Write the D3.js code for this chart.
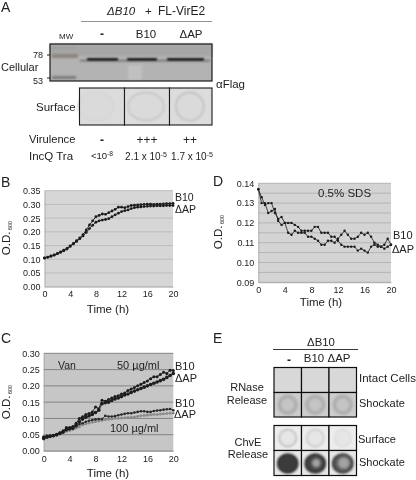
<!DOCTYPE html>
<html><head><meta charset="utf-8">
<script src="https://cdn.jsdelivr.net/npm/d3@7/dist/d3.min.js"></script>
<style>
html,body{margin:0;padding:0;background:#fff}
svg{display:block}
text{font-family:"Liberation Sans",Arial,sans-serif;fill:#222}
</style></head><body>
<svg id="c" width="416" height="480"></svg>
<script>
const timeTicks=[0,4,8,12,16,20];
const timeB=d3.range(0,20.01,0.5);
const bB10=[.105,.108,.112,.116,.121,.127,.133,.140,.149,.158,.168,.178,.190,.207,.225,.240,.255,.260,.265,.264,.270,.276,.282,.290,.290,.288,.292,.296,.297,.298,.299,.300,.301,.301,.300,.301,.301,.302,.303,.303,.304];
const bAP=[.104,.107,.111,.115,.120,.125,.131,.137,.147,.156,.165,.175,.185,.198,.212,.224,.235,.240,.243,.245,.248,.255,.262,.268,.274,.277,.280,.285,.288,.290,.291,.292,.293,.294,.294,.295,.295,.295,.296,.296,.296];
const c50B10=[.042,.046,.047,.048,.050,.056,.062,.072,.072,.075,.085,.100,.105,.112,.115,.120,.135,.130,.156,.153,.158,.163,.167,.170,.175,.178,.186,.190,.195,.200,.205,.210,.215,.222,.228,.228,.235,.242,.238,.248,.247];
const c50AP=[.038,.042,.045,.047,.050,.054,.058,.065,.068,.070,.078,.090,.098,.104,.108,.112,.118,.125,.145,.148,.150,.155,.160,.163,.167,.172,.175,.180,.184,.188,.192,.196,.200,.204,.208,.212,.216,.220,.226,.232,.238];
const c100B10=[.044,.045,.046,.048,.052,.055,.060,.066,.068,.072,.076,.082,.085,.090,.093,.095,.097,.098,.098,.108,.106,.106,.107,.110,.112,.114,.116,.116,.118,.120,.122,.122,.120,.120,.123,.124,.125,.127,.128,.129,.125];
const c100AP=[.042,.043,.045,.046,.048,.052,.056,.060,.063,.066,.070,.074,.080,.083,.086,.088,.090,.092,.094,.096,.097,.098,.100,.100,.101,.102,.103,.103,.104,.106,.108,.109,.110,.111,.112,.112,.113,.114,.115,.116,.116];
const dLower=[.137,.130,.130,.125,.126,.127,.121,.119,.120,.115,.114,.116,.115,.115,.115,.113,.113,.112,.111,.109,.109,.111,.111,.110,.112,.114,.116,.114,.112,.112,.113,.115,.114,.115,.113,.110,.109,.108,.109,.112,.109];
const dUpper=[.137,.133,.129,.130,.130,.125,.122,.123,.120,.120,.120,.119,.118,.116,.116,.116,.116,.118,.118,.115,.115,.115,.113,.113,.111,.109,.108,.108,.108,.108,.106,.107,.106,.105,.108,.109,.108,.108,.107,.108,.109];
const dMinorTicks=[.095,.105,.115,.125,.135];
const lanesA=["-","B10","\u0394AP"];
const virulence=["-","+++","++"];
const lanesE=["-","B10","\u0394AP"];
const surfaceA=[.06,.2,.25];
const rnaseShock=[.3,.3,.3];
const chvESurface=[.3,.22,.1];
const chvEShock=[.95,.9,.75];

const svg=d3.select("#c");
const defs=svg.append("defs");
[["b3",.35],["b8",.8],["b15",1.5]].forEach(([id,s])=>{
  defs.append("filter").attr("id",id).attr("x","-30%").attr("y","-30%").attr("width","160%").attr("height","160%")
    .append("feGaussianBlur").attr("stdDeviation",s);
});
const mix=(a,b,t)=>d3.interpolateRgb(a,b)(t);
const root=svg.append("g").attr("filter","url(#b3)");
root.append("rect").attr("width",416).attr("height",480).attr("fill","#fff");
function T(x,y,s,o={}){
  const t=root.append("text").attr("x",x).attr("y",y).attr("font-size",o.size||11).text(s);
  if(o.anchor)t.attr("text-anchor",o.anchor);
  if(o.style)t.attr("font-style",o.style);
  if(o.weight)t.attr("font-weight",o.weight);
  return t;
}
function sup(x,y,base,exp,size,anchor){
  const t=root.append("text").attr("x",x).attr("y",y).attr("font-size",size).attr("text-anchor",anchor||"middle");
  t.append("tspan").text(base);
  t.append("tspan").attr("dy",-3).attr("font-size",size*.7).text(exp);
}
function chart(o){
  const x=d3.scaleLinear().domain([0,20]).range([o.x0,o.x1]);
  const y=d3.scaleLinear().domain(o.domain).range([o.y1,o.y0]);
  root.append("rect").attr("x",o.x0).attr("y",o.y0).attr("width",o.x1-o.x0).attr("height",o.y1-o.y0).attr("fill",o.bg);
  root.append("g").selectAll("line").data(o.ticks.concat(o.minor||[])).join("line")
    .attr("x1",o.x0).attr("x2",o.x1).attr("y1",d=>y(d)).attr("y2",d=>y(d))
    .attr("stroke",o.grid).attr("stroke-width",1);
  const ax=root.append("g").attr("transform",`translate(0,${o.y1})`)
    .call(d3.axisBottom(x).tickValues(timeTicks).tickFormat(d3.format("d")).tickSize(0).tickPadding(o.xpad));
  const ay=root.append("g").attr("transform",`translate(${o.x0},0)`)
    .call(d3.axisLeft(y).tickValues(o.ticks).tickFormat(d3.format(".2f")).tickSize(0).tickPadding(4));
  [ax,ay].forEach(a=>{a.select(".domain").attr("stroke","#999").attr("stroke-width",.6);
    a.selectAll("text").attr("font-size",9).attr("font-family",'"Liberation Sans",Arial,sans-serif').attr("fill","#222");});
  const line=d3.line().x((d,i)=>x(timeB[i])).y(d=>y(d));
  o.series.forEach(s=>{
    root.append("path").attr("d",line(s.v)).attr("fill","none").attr("stroke",s.c).attr("stroke-width",s.w||.9);
    root.append("g").selectAll("circle").data(s.v).join("circle")
      .attr("cx",(d,i)=>x(timeB[i])).attr("cy",d=>y(d)).attr("r",s.r).attr("fill",s.c);
  });
  T(o.timeX,o.timeY,"Time (h)",{anchor:"middle",size:11.5});
  const od=root.append("text").attr("font-size",11.5)
    .attr("transform",`translate(${o.odX},${o.odY}) rotate(-90)`).attr("text-anchor","middle");
  od.append("tspan").text("O.D.");
  od.append("tspan").attr("dy",2).attr("font-size",5.5).text(" 600");
}

/* ---------- Panel A ---------- */
T(1,12,"A",{size:14});
T(107,15,"\u0394B10",{size:11.5,style:"italic"});
T(145,15,"+",{size:11.5});
T(158,15,"FL-VirE2",{size:12});
root.append("line").attr("x1",81).attr("x2",212).attr("y1",21.5).attr("y2",21.5).attr("stroke","#777").attr("stroke-width",.8);
T(59,39,"MW",{size:8});
lanesA.forEach((l,i)=>T([102,146,191][i],38,l,{anchor:"middle",size:i?11.5:12,weight:i?null:"bold"}));

root.append("rect").attr("x",50).attr("y",44).attr("width",162).attr("height",37).attr("fill","#b3b3b3");
const blot=root.append("g").attr("filter","url(#b8)");
blot.append("rect").attr("x",50).attr("y",44).attr("width",162).attr("height",12).attr("fill","#a6a6a6");
blot.append("rect").attr("x",128).attr("y",65).attr("width",14).attr("height",15).attr("fill","#c0c0c0");
blot.append("rect").attr("x",52).attr("y",54).attr("width",26).attr("height",4).attr("fill","#8c8580");
blot.append("rect").attr("x",52).attr("y",76).attr("width",24).attr("height",3).attr("fill","#7c7c7c");
blot.append("rect").attr("x",52).attr("y",47).attr("width",24).attr("height",2).attr("fill","#9c9c9c");
blot.append("rect").attr("x",80).attr("y",60).attr("width",130).attr("height",1.2).attr("fill","#555");
[[87,31],[127,30],[167,37]].forEach(([a,w])=>{
  blot.append("rect").attr("x",a).attr("y",58).attr("width",w).attr("height",2.6).attr("fill","#0a0a0a");
});
root.append("rect").attr("x",50).attr("y",44).attr("width",162).attr("height",37).attr("fill","none").attr("stroke","#1a1a1a").attr("stroke-width",1.2);
T(33,58,"78",{size:9});T(33,84,"53",{size:9});
T(1,71,"Cellular",{size:11});
T(216,88,"\u03b1Flag",{size:11.5});
[[49,55],[49,78]].forEach(([x,y])=>root.append("line").attr("x1",x-2).attr("x2",x+1).attr("y1",y).attr("y2",y).attr("stroke","#222"));

const surfEdges=[79.5,124.5,169.5,212];
surfaceA.forEach((v,i)=>{
  const a=surfEdges[i],b=surfEdges[i+1];
  root.append("rect").attr("x",a).attr("y",88).attr("width",b-a).attr("height",37).attr("fill","#dcdcdc");
  root.append("ellipse").attr("cx",(a+b)/2+(i==0?-6:-1)).attr("cy",106.5).attr("rx",i==2?14:18).attr("ry",14)
    .attr("fill","#dadada").attr("stroke",mix("#dcdcdc","#555",v)).attr("stroke-width",1.4).attr("filter","url(#b8)");
  root.append("rect").attr("x",a).attr("y",88).attr("width",b-a).attr("height",37).attr("fill","none").attr("stroke","#1a1a1a").attr("stroke-width",1.1);
});
T(36,111,"Surface",{size:11.5});
T(29,143,"Virulence",{size:11.2});
T(29,160,"IncQ Tra",{size:11.5});
virulence.forEach((l,i)=>T([102,147,190][i],144,l,{anchor:"middle",size:12,weight:i?null:"bold"}));
sup(102,159,"<10","-8",9.5);
sup(146,159.5,"2.1 x 10","-5",10);
sup(192,159.5,"1.7 x 10","-5",10);

/* ---------- Panel B ---------- */
T(1,187,"B",{size:14});
chart({x0:44.5,x1:173,y0:190.7,y1:286.7,domain:[0,.35],ticks:[0,.05,.1,.15,.2,.25,.3,.35],bg:"#d6d6d6",grid:"#bdbdbd",
  xpad:4,timeX:108,timeY:313,odX:10,odY:238,
  series:[{v:bB10,c:"#1c1c1c",r:1.4},{v:bAP,c:"#1c1c1c",r:1.4}]});
T(175,200.5,"B10",{size:10.5});T(175,212.5,"\u0394AP",{size:10.5});

/* ---------- Panel D ---------- */
T(213,186,"D",{size:14});
chart({x0:258.3,x1:391,y0:183.3,y1:282.3,domain:[.09,.14],ticks:[.09,.1,.11,.12,.13,.14],minor:dMinorTicks,bg:"#d4d4d4",grid:"#b5b5b5",
  xpad:4,timeX:321,timeY:306,odX:222,odY:232,
  series:[{v:dLower,c:"#1c1c1c",r:1.2,w:.8},{v:dUpper,c:"#1c1c1c",r:1.2,w:.8}]});
T(318,197,"0.5% SDS",{size:11.5});
T(393,239,"B10");T(392,253,"\u0394AP");

/* ---------- Panel C ---------- */
T(1,343,"C",{size:14});
chart({x0:43.7,x1:173.3,y0:353.3,y1:451,domain:[0,.3],ticks:[0,.05,.1,.15,.2,.25,.3],bg:"#c6c6c6",grid:"#858585",
  xpad:5,timeX:108,timeY:477,odX:10,odY:402,
  series:[{v:c100AP,c:"#8a8a8a",r:1.4},{v:c100B10,c:"#2a2a2a",r:1.3},{v:c50AP,c:"#1c1c1c",r:1.8},{v:c50B10,c:"#1c1c1c",r:1.5}]});
T(58,369,"Van",{size:10.5});
T(117,369,"50 \u00b5g/ml",{size:11});
T(110,432,"100 \u00b5g/ml",{size:11});
T(175,370,"B10");T(175,382,"\u0394AP");T(175,407,"B10");T(174,418,"\u0394AP");

/* ---------- Panel E ---------- */
T(213,343,"E",{size:14});
T(321,346,"\u0394B10",{anchor:"middle",size:11.4});
root.append("line").attr("x1",273).attr("x2",358).attr("y1",349.5).attr("y2",349.5).attr("stroke","#222").attr("stroke-width",.9);
T(289,364,"-",{anchor:"middle",size:12,weight:"bold"});
T(314,362,"B10",{anchor:"middle",size:11.5});
T(339,362,"\u0394AP",{anchor:"middle",size:11.5});
const colE=d3.scaleBand().domain(lanesE).range([274,356.5]);
function row(y,h,bg,vals,draw){
  lanesE.forEach((l,i)=>{
    const cx=colE(l),w=colE.bandwidth();
    root.append("rect").attr("x",cx).attr("y",y).attr("width",w).attr("height",h).attr("fill",bg);
    if(vals)draw(cx+w/2,y+h/2,vals[i]);
    root.append("rect").attr("x",cx).attr("y",y).attr("width",w).attr("height",h).attr("fill","none").attr("stroke","#111").attr("stroke-width",1.2);
  });
}
row(367.5,25,"#d8d8d8",null);
row(392.5,24.5,"#cdcdcd",rnaseShock,(x,y,v)=>{
  root.append("circle").attr("cx",x).attr("cy",y).attr("r",8.5).attr("fill","#c4c4c4")
    .attr("stroke",mix("#d0d0d0","#444",v)).attr("stroke-width",3).attr("filter","url(#b15)");
});
row(425.5,25,"#ededed",chvESurface,(x,y,v)=>{
  root.append("circle").attr("cx",x).attr("cy",y).attr("r",8.5).attr("fill","#e6e6e6")
    .attr("stroke",mix("#eee","#333",v)).attr("stroke-width",1.5).attr("filter","url(#b8)");
});
row(450.5,25,"#e8e8e8",chvEShock,(x,y,v)=>{
  root.append("ellipse").attr("cx",x).attr("cy",y+.5).attr("rx",10).attr("ry",9.5)
    .attr("fill",mix("#bbb","#333",v)).attr("stroke","#2a2a2a").attr("stroke-width",1.6).attr("filter","url(#b8)");
  if(v<.93)root.append("circle").attr("cx",x+1).attr("cy",y).attr("r",v<.8?6:4.5).attr("fill","#a3a3a3").attr("filter","url(#b15)");
});
T(359,382,"Intact Cells",{size:11.5});
T(359,407,"Shockate",{size:11});
T(358,443,"Surface",{size:11});
T(359,466,"Shockate",{size:11});
T(247,391,"RNase",{anchor:"middle",size:11});
T(247,404,"Release",{anchor:"middle",size:11});
T(248,446,"ChvE",{anchor:"middle",size:11});
T(248,458,"Release",{anchor:"middle",size:11});
</script>
</body></html>
